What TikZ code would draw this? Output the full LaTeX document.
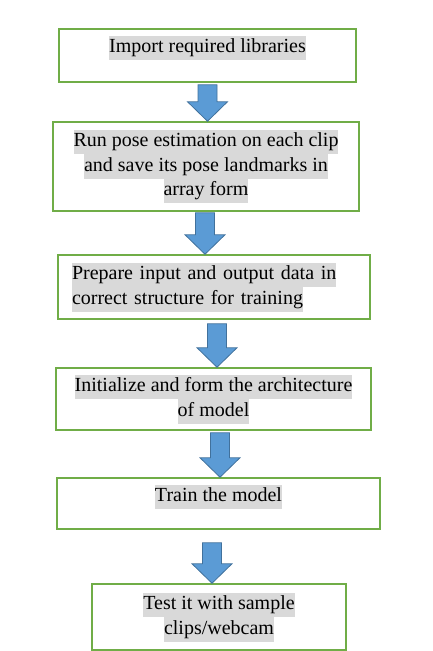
\documentclass[tikz,border=0pt]{standalone}
\usepackage{fontspec}
\setmainfont{Liberation Serif}
\usetikzlibrary{calc}

\definecolor{boxgreen}{HTML}{70AD47}
\definecolor{arrowblue}{HTML}{5B9BD5}
\definecolor{arrowedge}{HTML}{41719C}
\definecolor{hlgray}{HTML}{D9D9D9}

\newcommand{\hilite}[1]{{\setlength{\fboxsep}{0pt}\colorbox{hlgray}{\strut #1}}}
\newcommand{\flowarrow}[4]{%
  \coordinate (#1-out) at ($(#3,0 |- #1.south)+(0,#4)$);
  \coordinate (#1-tip) at (#3,0 |- #2.north);
  \draw[blockarrow] ($(#1-out)+(-9.5,0)$) -- ($(#1-out)+(9.5,0)$)
    -- ($(#1-tip)+(9.5,-19.5)$) -- ($(#1-tip)+(20,-19.5)$) -- (#1-tip)
    -- ($(#1-tip)+(-20,-19.5)$) -- ($(#1-tip)+(-9.5,-19.5)$) -- cycle;}

\begin{document}
\begin{tikzpicture}[x=1pt, y=-1pt,
                        every node/.style={font=\fontsize{20}{24.5}\selectfont},
                        procbox/.style={rectangle, draw=boxgreen, line width=1.5pt, fill=white, align=center, inner sep=0pt},
                        blockarrow/.style={fill=arrowblue, draw=arrowedge, line width=0.8pt, line join=miter}]

                        \useasboundingbox (0,0) rectangle (432,651);

                        % Steps
                        \node[procbox, minimum width=297pt, minimum height=53pt, text depth=22.35pt] (import) at (207.5,55.5) {\hilite{Import required libraries}}; % Step 1
                        \node[procbox, minimum width=306pt, minimum height=89pt] (pose) at (206,166.5) {\hilite{Run pose estimation on each clip}\\ \hilite{and save its pose landmarks in}\\ \hilite{array form}}; % Step 2
                        \node[procbox, minimum height=64pt, align=left, text width=284pt, inner xsep=14pt] (data) at (214,287) {\hilite{Prepare input and output data in}\\ \hilite{correct structure for training}}; % Step 3
                        \node[procbox, minimum width=315pt, minimum height=62pt] (model) at (213.5,399) {\hilite{Initialize and form the architecture}\\ \hilite{of model}}; % Step 4
                        \node[procbox, minimum width=323pt, minimum height=51pt, text depth=20.35pt] (train) at (218.5,503.5) {\hilite{Train the model}}; % Step 5
                        \node[procbox, minimum width=254pt, minimum height=66pt] (test) at (219,617) {\hilite{Test it with sample}\\ \hilite{clips/webcam}}; % Step 6

                        % Block arrows
                        \flowarrow{import}{pose}{207.5}{2}
                        \flowarrow{pose}{data}{205}{1}
                        \flowarrow{data}{model}{217}{4}
                        \flowarrow{model}{train}{220}{2}
                        \flowarrow{train}{test}{212}{13}
                    \end{tikzpicture}
\end{document}
